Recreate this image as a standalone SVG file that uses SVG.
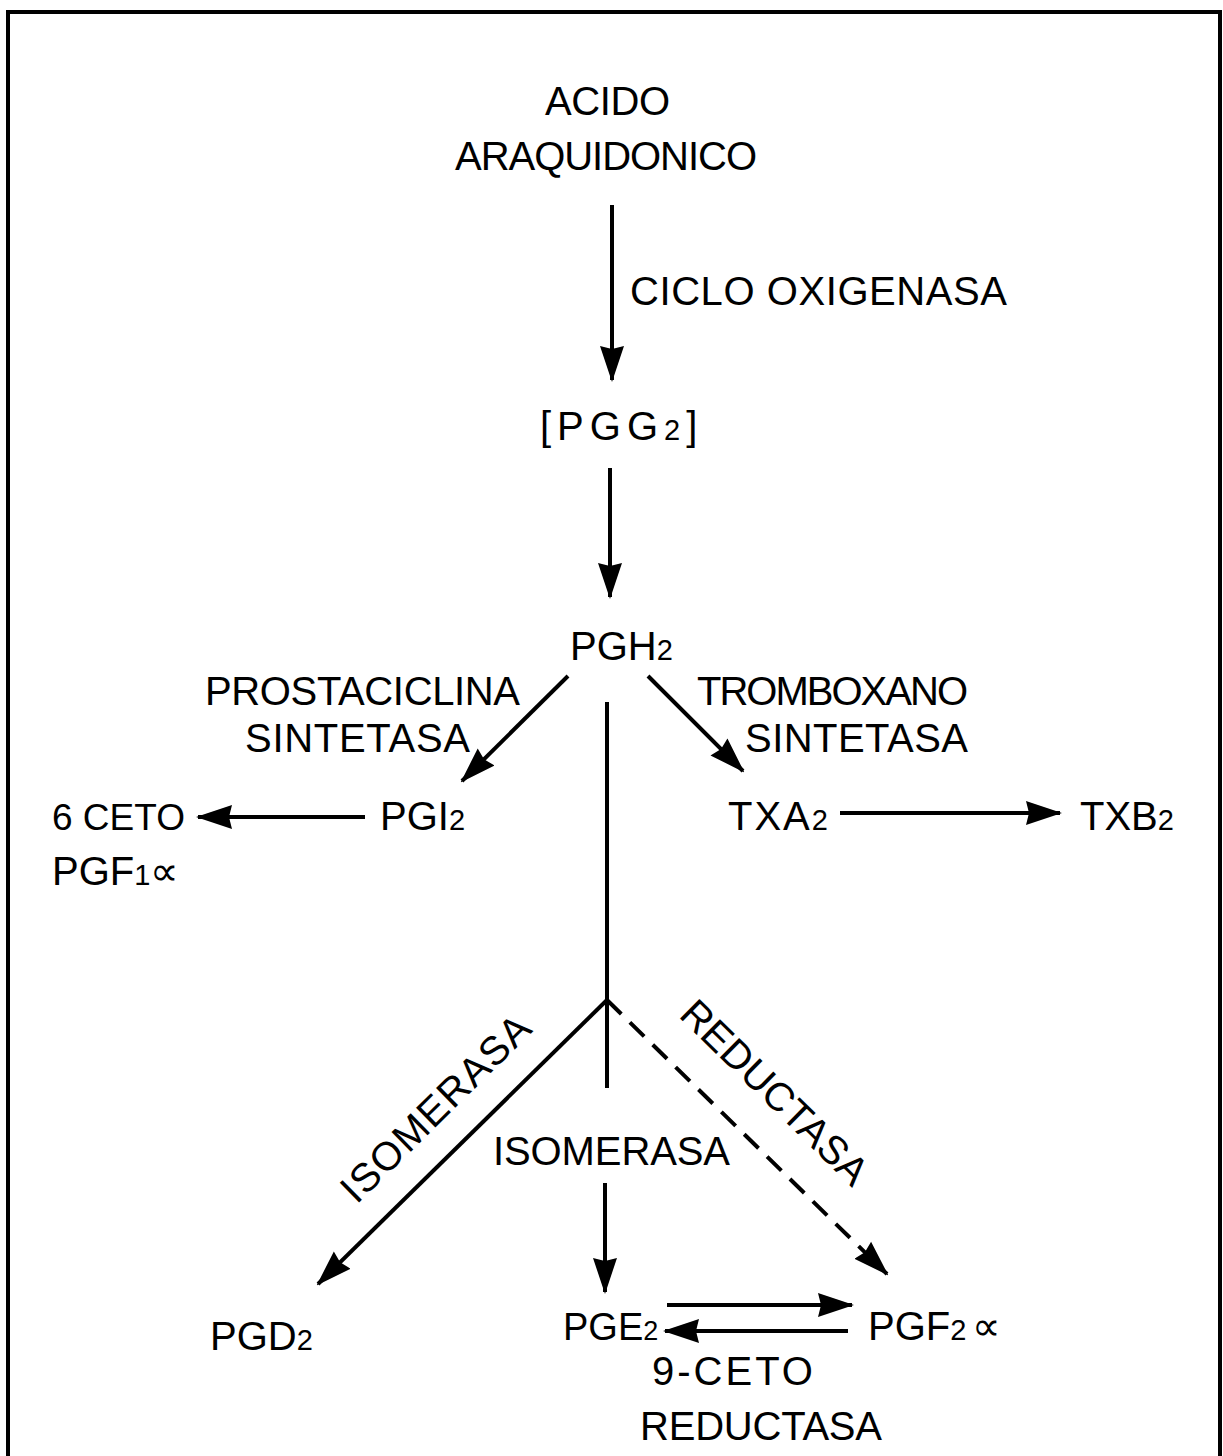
<svg xmlns="http://www.w3.org/2000/svg" width="1223" height="1456" viewBox="0 0 1223 1456">
<style>
text{font-family:"Liberation Sans",Arial,sans-serif;font-size:40px;fill:#000}
.s{font-size:29px}
.ln{stroke:#000;stroke-width:4;fill:none}
.da{stroke-dasharray:20 12}
</style>
<defs>
<marker id="ah" markerUnits="userSpaceOnUse" markerWidth="36" markerHeight="26" refX="34" refY="13" orient="auto">
<path d="M0,1 L36,13 L0,25 L3,13 Z" fill="#000"/>
</marker>
</defs>
<rect width="1223" height="1456" fill="#fff"/>
<path class="ln" d="M8,1456 V12 H1220 V1456" stroke-width="3"/>
<g id="connectors">
<line class="ln" x1="612" y1="205" x2="612" y2="380" marker-end="url(#ah)"/>
<line class="ln" x1="610" y1="468" x2="610" y2="597" marker-end="url(#ah)"/>
<line class="ln" x1="568" y1="676" x2="462" y2="781" marker-end="url(#ah)"/>
<line class="ln" x1="648" y1="676" x2="743" y2="771" marker-end="url(#ah)"/>
<line class="ln" x1="365" y1="817" x2="198" y2="817" marker-end="url(#ah)"/>
<line class="ln" x1="840" y1="813" x2="1060" y2="813" marker-end="url(#ah)"/>
<line class="ln" x1="607" y1="702" x2="607" y2="1088"/>
<line class="ln" x1="607" y1="1000" x2="318" y2="1284" marker-end="url(#ah)"/>
<line class="ln da" x1="607" y1="1000" x2="887" y2="1274" marker-end="url(#ah)"/>
<line class="ln" x1="605" y1="1183" x2="605" y2="1292" marker-end="url(#ah)"/>
<line class="ln" x1="667" y1="1305" x2="852" y2="1305" marker-end="url(#ah)"/>
<line class="ln" x1="848" y1="1331" x2="665" y2="1331" marker-end="url(#ah)"/>
</g>
<g id="acido"><text x="545" y="115" textLength="125" lengthAdjust="spacing">ACIDO</text>
<text x="455" y="170" textLength="302" lengthAdjust="spacing">ARAQUIDONICO</text></g>
<g id="lbl-ciclo"><text x="630" y="305" textLength="377" lengthAdjust="spacing">CICLO OXIGENASA</text></g>
<g id="pgg2"><text x="540" y="440" letter-spacing="6">[PGG<tspan class="s">2</tspan>]</text></g>
<g id="pgh2"><text x="570" y="660">PGH<tspan class="s">2</tspan></text></g>
<g id="lbl-prost"><text x="205" y="705" textLength="315" lengthAdjust="spacing">PROSTACICLINA</text>
<text x="245" y="752" textLength="225" lengthAdjust="spacing">SINTETASA</text></g>
<g id="lbl-trom"><text x="697" y="705" textLength="271" lengthAdjust="spacing">TROMBOXANO</text>
<text x="745" y="752" textLength="223" lengthAdjust="spacing">SINTETASA</text></g>
<g id="pgi2"><text x="380" y="830">PGI<tspan class="s">2</tspan></text></g>
<g id="ceto"><text x="52" y="830" style="font-size:37px">6 CETO</text>
<text x="52" y="885">PGF<tspan class="s">1</tspan>∝</text></g>
<g id="txa2"><text x="728" y="830" letter-spacing="2">TXA<tspan class="s">2</tspan></text></g>
<g id="txb2"><text x="1080" y="830">TXB<tspan class="s">2</tspan></text></g>
<g id="lbl-iso-left"><text x="0" y="0" text-anchor="middle" transform="translate(445,1118) rotate(-44.5)" textLength="248" lengthAdjust="spacing">ISOMERASA</text></g>
<g id="lbl-red"><text x="0" y="0" text-anchor="middle" transform="translate(765,1102) rotate(44.5)" textLength="245" lengthAdjust="spacing">REDUCTASA</text></g>
<g id="lbl-iso-mid"><text x="493" y="1165" textLength="237" lengthAdjust="spacing">ISOMERASA</text></g>
<g id="pgd2"><text x="210" y="1350">PGD<tspan class="s">2</tspan></text></g>
<g id="pge2"><text x="563" y="1340" style="font-size:38px">PGE<tspan class="s" style="font-size:27px">2</tspan></text></g>
<g id="pgf2"><text x="868" y="1340">PGF<tspan class="s">2</tspan><tspan dx="6">∝</tspan></text></g>
<g id="lbl-9ceto"><text x="652" y="1385" letter-spacing="3">9-CETO</text>
<text x="640" y="1440" textLength="242" lengthAdjust="spacing">REDUCTASA</text></g>
</svg>
